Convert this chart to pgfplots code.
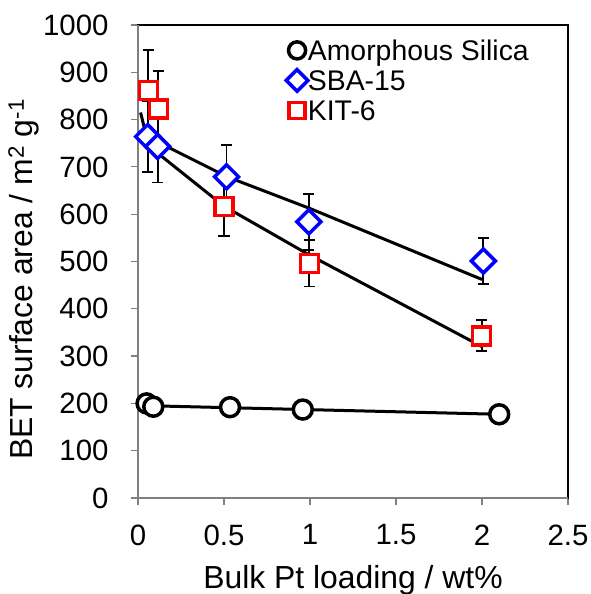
\documentclass[border=0pt]{standalone}
\usepackage{fontspec}
\setmainfont{Liberation Sans}
\usepackage{pgfplots}
\pgfplotsset{compat=1.18}
\definecolor{xred}{RGB}{255,0,0}
\definecolor{xblue}{RGB}{0,0,255}
\definecolor{axgray}{RGB}{128,128,128}
\pgfplotstableread{
x y
0.050 200
0.089 193
0.535 192
0.958 187
2.100 177
}\amor
\pgfplotstableread{
x y e
0.056 764 75
0.114 743 76
0.515 679 67
0.994 584 59
2.008 501 49
}\sba
\pgfplotstableread{
x y e
0.060 862 85
0.118 822 81
0.500 616 62
0.996 496 49
1.998 343 33
}\kit
\begin{document}
\begin{tikzpicture}
\begin{axis}[
  scale only axis, width=430bp, height=473bp,
  xmin=0, xmax=2.5, ymin=0, ymax=1000,
  xtick={0,0.5,1,1.5,2,2.5}, ytick={0,100,...,1000},
  xtick pos=bottom, ytick pos=left, tick align=outside,
  major tick length=7bp,
  tick style={draw=axgray, line width=1.2bp},
  axis line style={black, line width=1.5bp},
  /pgf/number format/assume math mode=true,
  /pgf/number format/1000 sep={},
  scaled ticks=false,
  tick label style={font=\fontsize{29.5}{34}\selectfont},
  xticklabel style={yshift=-16bp},
  yticklabel style={xshift=-19bp},
  label style={font=\fontsize{32}{36}\selectfont},
  xlabel={Bulk Pt loading / wt\%},
  ylabel={BET surface area / m\textsuperscript{2} g\textsuperscript{-1}},
  xlabel style={at={(axis description cs:0.5,-0.1903)}, anchor=base},
  ylabel style={at={(axis description cs:-0.2442,0.462)}, anchor=base},
  clip=false,
  legend style={at={(axis cs:0.862,968)}, anchor=north west, draw=none, fill=none,
    inner sep=0pt, outer sep=0pt, row sep=9bp, font=\fontsize{28.5}{32}\selectfont,
    nodes={inner sep=0pt, text height=20.5bp, text depth=0bp},
    /tikz/every even column/.append style={column sep=9bp}},
  legend cell align=left,
  legend image code/.code={\draw[#1, /tikz/every mark/.append style={scale=0.9}] plot coordinates {(0bp,0bp)};},
]
\draw[axgray, line width=1.5bp] (rel axis cs:0,1) -- (rel axis cs:0,0) -- (rel axis cs:1,0);
\coordinate (SW) at (rel axis cs:0,0);
\coordinate (NE) at (rel axis cs:1,1);
% trend lines
\addplot[black, line width=3bp, forget plot] coordinates {(0.07,195) (2.10,177)};
\addplot[black, line width=3bp, forget plot] coordinates {(0.056,763) (0.167,743) (0.519,679) (1.0,612) (2.0,462)};
\addplot[black, line width=3bp, forget plot] coordinates {(0.015,815) (0.04,778) (0.118,728) (0.5,617) (1.0,513) (2.0,320)};
% data
\addplot[only marks, mark=*, mark size=9.5bp, mark options={draw=black, fill=white, line width=3.5bp}]
  table[x=x, y=y] {\amor};
\addplot[only marks, mark=square*, mark size=8.5bp, mark options={draw=xblue, fill=white, line width=3.5bp, rotate=45},
  error bars/.cd, y dir=both, y explicit,
  error bar style={black, line width=1.8bp},
  error mark options={rotate=90, black, mark size=5.5bp, line width=1.8bp}]
  table[x=x, y=y, y error=e] {\sba};
\addplot[only marks, mark=square*, mark size=9bp, mark options={draw=xred, fill=white, line width=3.5bp},
  error bars/.cd, y dir=both, y explicit,
  error bar style={black, line width=1.8bp},
  error mark options={rotate=90, black, mark size=5.5bp, line width=1.8bp}]
  table[x=x, y=y, y error=e] {\kit};
\legend{Amorphous Silica, SBA-15, KIT-6}
\end{axis}
\pgfresetboundingbox
\path[use as bounding box] ([xshift=-138bp,yshift=-96bp]SW) rectangle ([xshift=23bp,yshift=25bp]NE);
\end{tikzpicture}
\end{document}
